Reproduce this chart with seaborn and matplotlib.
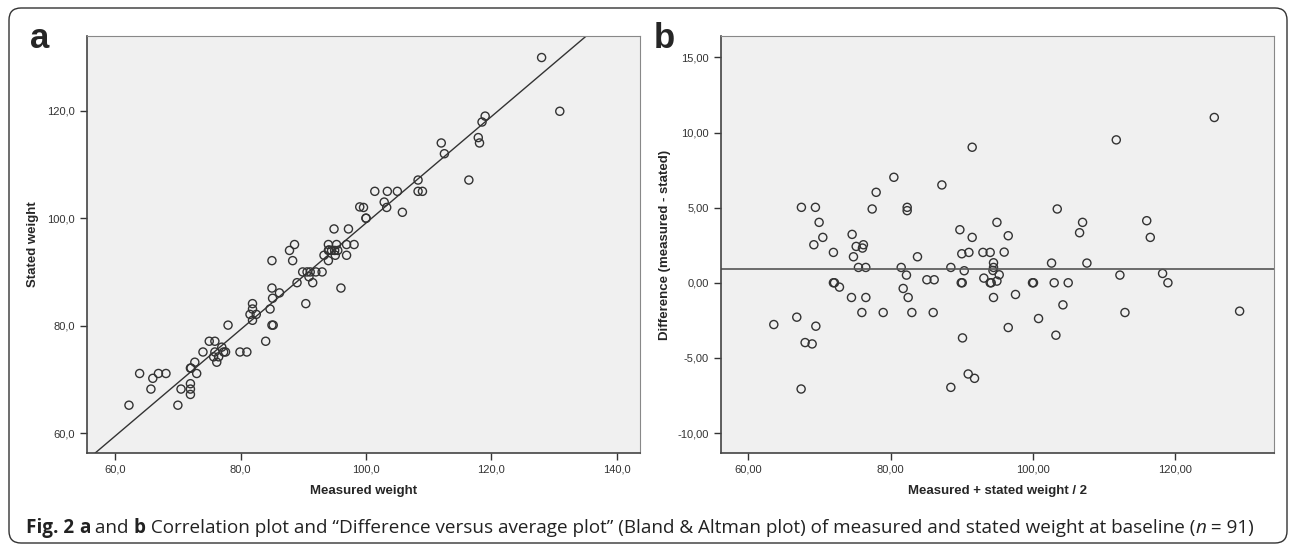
import numpy as np
import pandas as pd
import seaborn as sns
import matplotlib
matplotlib.use("Agg")
import matplotlib.pyplot as plt
from matplotlib.patches import FancyBboxPatch
from matplotlib.ticker import FuncFormatter

# panel a: measured vs stated weight
measured = [62.2, 63.9, 65.7, 66.0, 66.9, 68.1, 70.0, 70.5, 72.0, 72.0,
            72.0, 72.0, 72.7, 73.0, 74.0, 75.0, 75.9, 75.9, 75.7, 76.2,
            76.5, 77.0, 77.3, 77.6, 78.0, 79.9, 81.0, 81.9, 81.9, 81.5,
            82.5, 81.9, 84.0, 84.7, 85.0, 85.1, 85.0, 85.0, 85.2, 86.2,
            87.8, 88.6, 88.3, 89.0, 89.9, 90.6, 91.1, 90.9, 90.4, 91.5,
            92.0, 93.0, 93.3, 94.0, 94.5, 95.0, 95.5, 94.0, 95.3, 96.9,
            98.1, 94.0, 95.1, 96.9, 96.0, 94.9, 97.2, 99.0, 128.0, 130.9,
            119.0, 118.5, 117.9, 118.1, 112.0, 112.5, 116.4, 108.3, 108.3, 109.0,
            101.4, 103.4, 105.0, 102.9, 103.3, 105.8, 99.6, 100.0, 100.0, 94.1,
            72.1]
stated = [65.2, 71.1, 68.2, 70.2, 71.1, 71.1, 65.2, 68.2, 72.1, 69.2,
          68.2, 67.2, 73.2, 71.1, 75.1, 77.1, 77.1, 75.1, 74.2, 73.2,
          74.2, 76.0, 75.1, 75.1, 80.1, 75.1, 75.1, 84.1, 83.1, 82.1,
          82.1, 81.0, 77.1, 83.1, 87.0, 85.1, 92.1, 80.1, 80.1, 86.1,
          94.0, 95.1, 92.1, 88.0, 90.0, 90.0, 90.0, 89.1, 84.1, 88.0,
          90.0, 90.0, 93.1, 94.0, 94.0, 94.0, 94.0, 95.1, 95.1, 95.1,
          95.1, 92.1, 93.1, 93.1, 87.0, 98.0, 98.0, 102.1, 129.9, 119.9,
          119.0, 117.9, 115.0, 114.0, 114.0, 112.0, 107.1, 107.1, 105.0, 105.0,
          105.0, 105.0, 105.0, 103.0, 102.0, 101.1, 102.0, 100.0, 100.0, 94.1,
          72.1]
# fit line as drawn in the picture (slope, intercept)
fit_slope = 0.991
fit_intercept = 0.0

# panel b: Bland & Altman (average, difference)
average = [67.45, 69.42, 69.94, 70.46, 69.2, 71.95, 74.58, 75.15, 76.17, 76.03,
           74.77, 77.40, 77.96, 80.45, 82.32, 82.32, 83.77, 87.2, 91.46, 89.73,
           91.46, 94.94, 90.0, 91.0, 92.97, 93.99, 125.5, 111.72, 103.42, 96.53,
           106.98, 106.56, 116.0, 116.5, 95.96, 75.47, 76.5, 81.48, 82.22, 85.09,
           86.12, 88.46, 90.34, 89.92, 90.06, 93.1, 93.99, 94.13, 94.46, 94.46,
           94.38, 94.94, 94.46, 71.95, 72.1, 72.8, 74.49, 76.51, 75.95, 78.95,
           81.76, 82.46, 82.98, 85.98, 63.57, 66.8, 69.48, 67.97, 68.96, 67.41,
           90.1, 88.46, 90.9, 91.79, 95.26, 97.55, 96.53, 99.94, 100.08, 100.79,
           102.62, 102.99, 104.96, 104.22, 103.23, 107.59, 112.23, 112.94, 118.23, 118.98,
           129.06]
difference = [5.02, 5.02, 4.02, 3.02, 2.53, 2.02, 3.22, 2.42, 2.53, 2.31,
              1.73, 4.91, 6.02, 7.02, 5.02, 4.80, 1.73, 6.51, 9.02, 3.53,
              3.02, 4.02, 1.93, 2.02, 2.02, 2.02, 11.0, 9.51, 4.91, 3.13,
              4.02, 3.33, 4.13, 3.02, 2.04, 1.02, 1.02, 1.02, 0.51, 0.2,
              0.2, 1.02, 0.8, 0.0, 0.0, 0.31, 0.0, 0.0, 1.33, 1.02,
              0.82, 0.11, -0.98, 0.0, 0.0, -0.29, -0.98, -0.98, -1.98, -1.98,
              -0.38, -0.98, -1.98, -1.98, -2.78, -2.29, -2.89, -3.98, -4.07, -7.07,
              -3.67, -6.96, -6.07, -6.36, 0.53, -0.78, -2.98, 0.0, 0.0, -2.38,
              1.31, 0.0, 0.0, -1.47, -3.49, 1.31, 0.51, -1.98, 0.62, 0.0,
              -1.89]

dfa = pd.DataFrame({"measured": measured, "stated": stated})
dfb = pd.DataFrame({"average": average, "difference": difference})

sns.set_style("ticks")
plt.rcParams["font.family"] = ["Liberation Sans", "DejaVu Sans"]
plt.rcParams["axes.facecolor"] = "#f0f0f0"
plt.rcParams["axes.edgecolor"] = "#444444"
plt.rcParams["xtick.color"] = "#333333"
plt.rcParams["ytick.color"] = "#333333"

fig = plt.figure(figsize=(12.92, 5.46), dpi=100)
ax1 = fig.add_axes([0.0673, 0.1703, 0.4281, 0.7637])
ax2 = fig.add_axes([0.5578, 0.1703, 0.4283, 0.7637])

pt = dict(facecolor="none", edgecolor="#333333", s=34, linewidth=1.0)

# ---- panel a
sns.scatterplot(data=dfa, x="measured", y="stated", ax=ax1, **pt)
ax1.axline((0, fit_intercept), slope=fit_slope, color="#333333", linewidth=1.0)
ax1.set_xlim(55.5, 143.7)
ax1.set_ylim(56.3, 133.9)
ax1.set_xticks([60, 80, 100, 120, 140])
ax1.set_yticks([60, 80, 100, 120])
ax1.xaxis.set_major_formatter(FuncFormatter(lambda v, p: f"{v:.1f}".replace(".", ",")))
ax1.yaxis.set_major_formatter(FuncFormatter(lambda v, p: f"{v:.1f}".replace(".", ",")))
ax1.set_xlabel("Measured weight", fontsize=9.5, fontweight="bold", labelpad=7)
ax1.set_ylabel("Stated weight", fontsize=9.5, fontweight="bold", labelpad=6)

# ---- panel b
sns.scatterplot(data=dfb, x="average", y="difference", ax=ax2, **pt)
ax2.axhline(np.mean(difference), color="#555555", linewidth=1.2)
ax2.set_xlim(56.1, 133.9)
ax2.set_ylim(-11.33, 16.42)
ax2.set_xticks([60, 80, 100, 120])
ax2.set_yticks([-10, -5, 0, 5, 10, 15])
ax2.xaxis.set_major_formatter(FuncFormatter(lambda v, p: f"{v:.2f}".replace(".", ",")))
ax2.yaxis.set_major_formatter(FuncFormatter(lambda v, p: f"{v:.2f}".replace(".", ",")))
ax2.set_xlabel("Measured + stated weight / 2", fontsize=9.5, fontweight="bold", labelpad=7)
ax2.set_ylabel("Difference (measured - stated)", fontsize=9.5, fontweight="bold", labelpad=5)

for ax in (ax1, ax2):
    ax.tick_params(labelsize=8, length=5, width=1, direction="out")
    for side in ("top", "right"):
        ax.spines[side].set_color("#888888")
    for side in ("left", "bottom"):
        ax.spines[side].set_linewidth(1.2)

fig.text(30 / 1292, 1 - 48 / 546, "a", fontsize=25, fontweight="bold",
         family=["Liberation Sans", "DejaVu Sans"], va="baseline")
fig.text(654 / 1292, 1 - 48 / 546, "b", fontsize=25, fontweight="bold",
         family=["Liberation Sans", "DejaVu Sans"], va="baseline")

# rounded frame around the figure
frame = FancyBboxPatch((0.09, 0.03), 12.78, 5.35,
                       boxstyle="round,pad=0,rounding_size=0.12",
                       transform=fig.dpi_scale_trans, facecolor="none",
                       edgecolor="#333333", linewidth=1.0, clip_on=False)
fig.patches.append(frame)

# caption made of pieces with different weights
pieces = [("Fig. 2 ", "bold", "normal"), ("a", "bold", "normal"),
          (" and ", "normal", "normal"), ("b", "bold", "normal"),
          (" Correlation plot and \u201cDifference versus average plot\u201d (Bland & Altman plot) "
           "of measured and stated weight at baseline (", "normal", "normal"),
          ("n", "normal", "italic"), (" = 91)", "normal", "normal")]
renderer = fig.canvas.get_renderer()
xpos = 26
for txt, w, st in pieces:
    t = fig.text(xpos / 1292, 1 - 533 / 546, txt, fontsize=13.6, fontweight=w, style=st,
                 family=["Open Sans", "DejaVu Sans"], color="#222222", va="baseline")
    bb = t.get_window_extent(renderer=renderer)
    xpos += bb.width

fig.savefig("out.png", dpi=100)
